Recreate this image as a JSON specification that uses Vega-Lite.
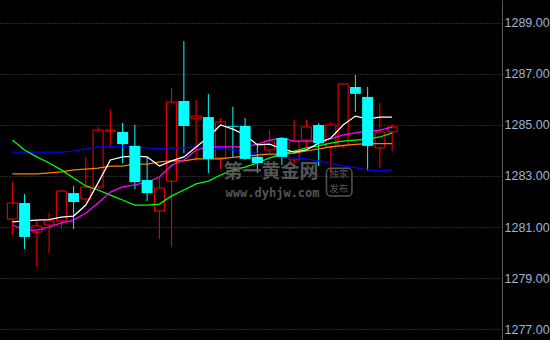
{
  "$schema": "https://vega.github.io/schema/vega-lite/v6.json",
  "width": 502,
  "height": 340,
  "autosize": {"type": "none"},
  "padding": {"left": 0, "top": 0, "right": 48, "bottom": 0},
  "background": "#000000",
  "config": {
    "view": {"stroke": null},
    "axis": {
      "grid": true,
      "gridColor": "#505050",
      "gridDash": [1, 2],
      "gridWidth": 1,
      "domainColor": "#5a5a5a",
      "ticks": false,
      "labelColor": "#9fb3d2",
      "labelFont": "Liberation Sans",
      "labelFontSize": 12.5,
      "labelPadding": 2,
      "title": null
    }
  },
  "datasets": {
    "k": [
      {"i": 1, "o": 1281.31, "h": 1282.76, "l": 1280.69, "c": 1281.94, "ma5": 1281.20, "ma10": 1281.08, "ma20": 1284.41, "ma40": 1283.08, "ma60": 1283.94},
      {"i": 2, "o": 1281.94, "h": 1282.29, "l": 1280.14, "c": 1280.61, "ma5": 1281.24, "ma10": 1280.88, "ma20": 1284.02, "ma40": 1283.08, "ma60": 1283.94},
      {"i": 3, "o": 1280.80, "h": 1281.27, "l": 1279.43, "c": 1281.04, "ma5": 1281.27, "ma10": 1280.88, "ma20": 1283.75, "ma40": 1283.08, "ma60": 1283.94},
      {"i": 4, "o": 1281.08, "h": 1281.55, "l": 1279.98, "c": 1281.24, "ma5": 1281.29, "ma10": 1281.00, "ma20": 1283.51, "ma40": 1283.12, "ma60": 1283.94},
      {"i": 5, "o": 1281.24, "h": 1282.45, "l": 1280.92, "c": 1282.41, "ma5": 1281.39, "ma10": 1281.16, "ma20": 1283.24, "ma40": 1283.16, "ma60": 1283.94},
      {"i": 6, "o": 1282.33, "h": 1282.61, "l": 1280.92, "c": 1281.98, "ma5": 1281.43, "ma10": 1281.27, "ma20": 1282.92, "ma40": 1283.24, "ma60": 1283.98},
      {"i": 7, "o": 1282.10, "h": 1283.75, "l": 1281.94, "c": 1282.57, "ma5": 1281.86, "ma10": 1281.55, "ma20": 1282.61, "ma40": 1283.27, "ma60": 1284.06},
      {"i": 8, "o": 1282.57, "h": 1284.92, "l": 1282.50, "c": 1284.80, "ma5": 1282.73, "ma10": 1281.94, "ma20": 1282.45, "ma40": 1283.31, "ma60": 1284.14},
      {"i": 9, "o": 1284.76, "h": 1285.59, "l": 1284.18, "c": 1284.80, "ma5": 1283.63, "ma10": 1282.37, "ma20": 1282.25, "ma40": 1283.39, "ma60": 1284.14},
      {"i": 10, "o": 1284.73, "h": 1285.08, "l": 1283.51, "c": 1284.25, "ma5": 1283.75, "ma10": 1282.57, "ma20": 1282.06, "ma40": 1283.39, "ma60": 1284.14},
      {"i": 11, "o": 1284.18, "h": 1285.00, "l": 1282.49, "c": 1282.76, "ma5": 1283.78, "ma10": 1282.65, "ma20": 1281.86, "ma40": 1283.47, "ma60": 1284.14},
      {"i": 12, "o": 1282.84, "h": 1283.75, "l": 1282.02, "c": 1282.33, "ma5": 1283.75, "ma10": 1282.76, "ma20": 1281.86, "ma40": 1283.47, "ma60": 1284.10},
      {"i": 13, "o": 1281.63, "h": 1282.96, "l": 1280.53, "c": 1282.53, "ma5": 1283.39, "ma10": 1282.96, "ma20": 1281.90, "ma40": 1283.55, "ma60": 1284.06},
      {"i": 14, "o": 1282.80, "h": 1286.45, "l": 1280.22, "c": 1285.90, "ma5": 1283.59, "ma10": 1283.43, "ma20": 1282.22, "ma40": 1283.59, "ma60": 1284.10},
      {"i": 15, "o": 1285.94, "h": 1288.29, "l": 1283.90, "c": 1284.96, "ma5": 1283.75, "ma10": 1283.63, "ma20": 1282.45, "ma40": 1283.59, "ma60": 1284.10},
      {"i": 16, "o": 1285.24, "h": 1285.98, "l": 1283.59, "c": 1285.35, "ma5": 1284.14, "ma10": 1284.02, "ma20": 1282.69, "ma40": 1283.67, "ma60": 1284.14},
      {"i": 17, "o": 1285.31, "h": 1286.22, "l": 1283.12, "c": 1283.67, "ma5": 1284.53, "ma10": 1284.14, "ma20": 1282.80, "ma40": 1283.67, "ma60": 1284.10},
      {"i": 18, "o": 1283.71, "h": 1285.27, "l": 1283.27, "c": 1285.12, "ma5": 1285.00, "ma10": 1284.14, "ma20": 1283.04, "ma40": 1283.67, "ma60": 1284.06},
      {"i": 19, "o": 1284.96, "h": 1285.71, "l": 1283.71, "c": 1284.93, "ma5": 1284.84, "ma10": 1284.14, "ma20": 1283.24, "ma40": 1283.73, "ma60": 1284.02},
      {"i": 20, "o": 1284.96, "h": 1285.27, "l": 1283.63, "c": 1283.67, "ma5": 1284.61, "ma10": 1284.14, "ma20": 1283.35, "ma40": 1283.78, "ma60": 1283.98},
      {"i": 21, "o": 1283.75, "h": 1284.29, "l": 1283.12, "c": 1283.51, "ma5": 1284.22, "ma10": 1284.25, "ma20": 1283.51, "ma40": 1283.82, "ma60": 1283.90},
      {"i": 22, "o": 1284.02, "h": 1284.80, "l": 1283.90, "c": 1284.37, "ma5": 1284.25, "ma10": 1284.41, "ma20": 1283.71, "ma40": 1283.86, "ma60": 1283.86},
      {"i": 23, "o": 1284.49, "h": 1284.53, "l": 1283.43, "c": 1283.75, "ma5": 1284.06, "ma10": 1284.49, "ma20": 1283.86, "ma40": 1283.86, "ma60": 1283.75},
      {"i": 24, "o": 1283.63, "h": 1285.20, "l": 1283.31, "c": 1284.37, "ma5": 1283.94, "ma10": 1284.37, "ma20": 1283.98, "ma40": 1283.90, "ma60": 1283.71},
      {"i": 25, "o": 1284.41, "h": 1285.20, "l": 1284.10, "c": 1284.92, "ma5": 1284.02, "ma10": 1284.37, "ma20": 1284.10, "ma40": 1283.98, "ma60": 1283.67},
      {"i": 26, "o": 1285.00, "h": 1285.08, "l": 1283.39, "c": 1284.29, "ma5": 1284.29, "ma10": 1284.37, "ma20": 1284.18, "ma40": 1284.06, "ma60": 1283.59},
      {"i": 27, "o": 1284.14, "h": 1285.12, "l": 1283.12, "c": 1285.00, "ma5": 1284.49, "ma10": 1284.45, "ma20": 1284.29, "ma40": 1284.14, "ma60": 1283.49},
      {"i": 28, "o": 1284.18, "h": 1286.65, "l": 1284.10, "c": 1286.61, "ma5": 1285.00, "ma10": 1284.61, "ma20": 1284.37, "ma40": 1284.20, "ma60": 1283.39},
      {"i": 29, "o": 1286.49, "h": 1286.96, "l": 1285.51, "c": 1286.22, "ma5": 1285.35, "ma10": 1284.69, "ma20": 1284.41, "ma40": 1284.24, "ma60": 1283.33},
      {"i": 30, "o": 1286.10, "h": 1286.49, "l": 1283.20, "c": 1284.18, "ma5": 1285.24, "ma10": 1284.76, "ma20": 1284.45, "ma40": 1284.27, "ma60": 1283.24},
      {"i": 31, "o": 1284.10, "h": 1285.86, "l": 1283.31, "c": 1284.73, "ma5": 1285.31, "ma10": 1284.80, "ma20": 1284.53, "ma40": 1284.27, "ma60": 1283.20},
      {"i": 32, "o": 1284.73, "h": 1285.04, "l": 1283.98, "c": 1284.92, "ma5": 1285.31, "ma10": 1284.92, "ma20": 1284.69, "ma40": 1284.27, "ma60": 1283.24}
    ],
    "wm": [
      {"i": 22.12, "y": 1283.15, "t": "第一黄金网", "kind": "big"},
      {"i": 22.24, "y": 1282.35, "t": "www.dyhjw.com", "kind": "url"},
      {"i": 27.64, "y": 1283.07, "t": "独家", "kind": "small"},
      {"i": 27.64, "y": 1282.50, "t": "发布", "kind": "small"}
    ],
    "box": [
      {"i": 26.64, "i2": 28.72, "y": 1283.30, "y2": 1282.22}
    ]
  },
  "encoding": {
    "x": {"field": "i", "type": "quantitative", "scale": {"domain": [0.4, 40.56], "nice": false, "zero": false}, "axis": null}
  },
  "layer": [
    {
      "data": {"name": "k"},
      "mark": {"type": "rule", "strokeWidth": 1},
      "encoding": {
        "y": {"field": "h", "type": "quantitative", "scale": {"domain": [1276.57, 1289.90], "nice": false, "zero": false},
          "axis": {"orient": "right", "values": [1277, 1279, 1281, 1283, 1285, 1287, 1289], "format": ".2f"}},
        "y2": {"field": "l"},
        "color": {"condition": {"test": "datum.c >= datum.o", "value": "#ff0000"}, "value": "#00ffff"}
      }
    },
    {
      "data": {"name": "k"},
      "transform": [{"filter": "datum.c >= datum.o"}],
      "mark": {"type": "bar", "size": 10, "fill": "#000000", "stroke": "#ff0000", "strokeWidth": 1},
      "encoding": {
        "y": {"field": "o", "type": "quantitative"},
        "y2": {"field": "c"}
      }
    },
    {
      "data": {"name": "k"},
      "mark": {"type": "line", "color": "#0000ff", "strokeWidth": 1.25},
      "encoding": {"y": {"field": "ma60", "type": "quantitative"}}
    },
    {
      "data": {"name": "k"},
      "mark": {"type": "line", "color": "#ff8000", "strokeWidth": 1.25},
      "encoding": {"y": {"field": "ma40", "type": "quantitative"}}
    },
    {
      "data": {"name": "k"},
      "mark": {"type": "line", "color": "#00ff00", "strokeWidth": 1.25},
      "encoding": {"y": {"field": "ma20", "type": "quantitative"}}
    },
    {
      "data": {"name": "k"},
      "mark": {"type": "line", "color": "#ff00ff", "strokeWidth": 1.25},
      "encoding": {"y": {"field": "ma10", "type": "quantitative"}}
    },
    {
      "data": {"name": "k"},
      "mark": {"type": "line", "color": "#ffffff", "strokeWidth": 1.25},
      "encoding": {"y": {"field": "ma5", "type": "quantitative"}}
    },
    {
      "data": {"name": "k"},
      "transform": [{"filter": "datum.c < datum.o"}],
      "mark": {"type": "bar", "size": 11, "color": "#00ffff"},
      "encoding": {
        "y": {"field": "o", "type": "quantitative"},
        "y2": {"field": "c"}
      }
    },
    {
      "data": {"name": "wm"},
      "transform": [{"filter": "datum.kind == 'big'"}],
      "mark": {"type": "text", "font": "Noto Sans CJK SC", "fontWeight": "bold", "fontSize": 19, "color": "#5e5e5e", "opacity": 0.9, "align": "center", "baseline": "middle"},
      "encoding": {"y": {"field": "y", "type": "quantitative"}, "text": {"field": "t"}}
    },
    {
      "data": {"name": "wm"},
      "transform": [{"filter": "datum.kind == 'url'"}],
      "mark": {"type": "text", "font": "DejaVu Sans Mono", "fontWeight": "bold", "fontSize": 12, "color": "#5e5e5e", "opacity": 0.9, "align": "center", "baseline": "middle"},
      "encoding": {"y": {"field": "y", "type": "quantitative"}, "text": {"field": "t"}}
    },
    {
      "data": {"name": "wm"},
      "transform": [{"filter": "datum.kind == 'small'"}],
      "mark": {"type": "text", "font": "Noto Sans CJK SC", "fontSize": 9.5, "color": "#5e5e5e", "opacity": 0.9, "align": "center", "baseline": "middle"},
      "encoding": {"y": {"field": "y", "type": "quantitative"}, "text": {"field": "t"}}
    },
    {
      "data": {"name": "box"},
      "mark": {"type": "rect", "fill": null, "stroke": "#5e5e5e", "strokeWidth": 1.5, "cornerRadius": 4, "opacity": 0.9},
      "encoding": {
        "x2": {"field": "i2"},
        "y": {"field": "y", "type": "quantitative"},
        "y2": {"field": "y2"}
      }
    }
  ]
}
